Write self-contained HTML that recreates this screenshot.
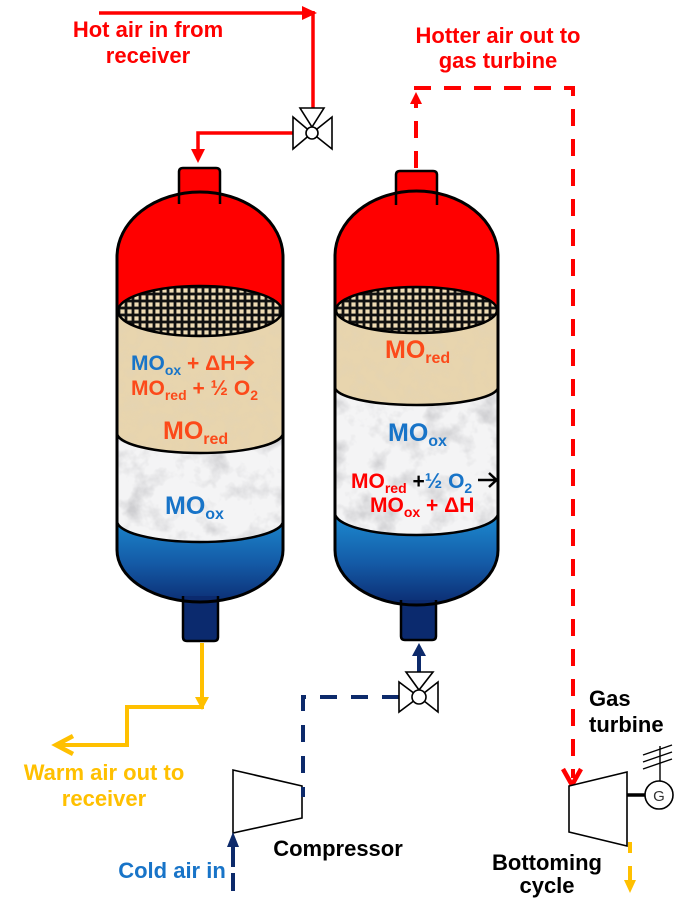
<!DOCTYPE html>
<html><head><meta charset="utf-8">
<style>
html,body{margin:0;padding:0;background:#fff;}
svg{display:block;}
text{font-family:"Liberation Sans",Arial,sans-serif;font-weight:bold;}
</style></head>
<body>
<svg width="687" height="915" viewBox="0 0 687 915" xmlns="http://www.w3.org/2000/svg">
<defs>
  <linearGradient id="blue" x1="0" y1="515" x2="0" y2="612" gradientUnits="userSpaceOnUse">
    <stop offset="0" stop-color="#1c8ad0"/>
    <stop offset="0.5" stop-color="#145aa6"/>
    <stop offset="1" stop-color="#0a2468"/>
  </linearGradient>
  <pattern id="grid" width="7" height="7" patternUnits="userSpaceOnUse">
    <rect width="7" height="7" fill="#111"/>
    <rect x="1.4" y="1.4" width="4.2" height="4.2" fill="#efdcb5"/>
  </pattern>
  <filter id="marb" x="0" y="0" width="687" height="915" filterUnits="userSpaceOnUse">
    <feTurbulence type="fractalNoise" baseFrequency="0.04" numOctaves="4" seed="7" result="n"/>
    <feColorMatrix in="n" type="matrix" values="0 0 0 0 0.6  0 0 0 0 0.6  0 0 0 0 0.62  2.6 0 0 0 -1.25"/>
  </filter>
  <filter id="sand" x="0" y="0" width="687" height="915" filterUnits="userSpaceOnUse">
    <feTurbulence type="fractalNoise" baseFrequency="0.08" numOctaves="3" seed="3" result="n"/>
    <feColorMatrix in="n" type="matrix" values="0 0 0 0 0.75  0 0 0 0 0.65  0 0 0 0 0.48  2.0 0 0 0 -0.85"/>
  </filter>
  <clipPath id="t1"><path d="M117,257 A83,65 0 0 1 283,257 L283,550 A83,52 0 0 1 117,550 Z"/></clipPath>
  <clipPath id="t2"><path d="M335,256 A81.5,65 0 0 1 498,256 L498,550 A81.5,55 0 0 1 335,550 Z"/></clipPath>
  <clipPath id="m1"><path d="M117,425 L117,521 A83,21 0 0 0 283,521 L283,425 Z"/></clipPath>
  <clipPath id="b1"><path d="M117,311 L117,433 A83,20 0 0 0 283,433 L283,311 Z"/></clipPath>
  <clipPath id="m2"><path d="M335,380 L335,513 A81.5,22 0 0 0 498,513 L498,380 Z"/></clipPath>
  <clipPath id="b2"><path d="M335,310 L335,387 A81.5,18 0 0 0 498,387 L498,310 Z"/></clipPath>
</defs>

<!-- ===== TANK 1 ===== -->
<g clip-path="url(#t1)">
  <rect x="100" y="150" width="200" height="480" fill="url(#blue)"/>
  <g clip-path="url(#m1)">
    <rect x="100" y="420" width="200" height="130" fill="#f4f4f5"/>
    <rect x="100" y="420" width="200" height="130" filter="url(#marb)"/>
  </g>
  <g clip-path="url(#b1)">
    <rect x="100" y="300" width="200" height="160" fill="#e8d5ae"/>
    <rect x="100" y="300" width="200" height="160" filter="url(#sand)" opacity="0.5"/>
  </g>
  <rect x="100" y="150" width="200" height="161" fill="#ff0000"/>
  <ellipse cx="200" cy="311" rx="82" ry="25" fill="url(#grid)" stroke="#000" stroke-width="2.5"/>
  <path d="M117,433 A83,20 0 0 0 283,433" fill="none" stroke="#000" stroke-width="2.5"/>
  <path d="M117,521 A83,21 0 0 0 283,521" fill="none" stroke="#000" stroke-width="2.5"/>
</g>
<path d="M179,204 L179,172 Q179,168 183,168 L216,168 Q220,168 220,172 L220,204" fill="#ff0000" stroke="#000" stroke-width="2.5"/>
<path d="M183,596 L183,637 Q183,641 187,641 L214,641 Q218,641 218,637 L218,596" fill="#0b2a6e" stroke="#000" stroke-width="2.5"/>
<path d="M117,257 A83,65 0 0 1 283,257 L283,550 A83,52 0 0 1 117,550 Z" fill="none" stroke="#000" stroke-width="3"/>

<!-- ===== TANK 2 ===== -->
<g clip-path="url(#t2)">
  <rect x="320" y="150" width="200" height="480" fill="url(#blue)"/>
  <g clip-path="url(#m2)">
    <rect x="320" y="370" width="200" height="180" fill="#f4f4f5"/>
    <rect x="320" y="370" width="200" height="180" filter="url(#marb)"/>
  </g>
  <g clip-path="url(#b2)">
    <rect x="320" y="300" width="200" height="110" fill="#e8d5ae"/>
    <rect x="320" y="300" width="200" height="110" filter="url(#sand)" opacity="0.5"/>
  </g>
  <rect x="320" y="150" width="200" height="160" fill="#ff0000"/>
  <ellipse cx="416.5" cy="310" rx="80.5" ry="23" fill="url(#grid)" stroke="#000" stroke-width="2.5"/>
  <path d="M335,387 A81.5,18 0 0 0 498,387" fill="none" stroke="#000" stroke-width="2.5"/>
  <path d="M335,513 A81.5,22 0 0 0 498,513" fill="none" stroke="#000" stroke-width="2.5"/>
</g>
<path d="M396,205 L396,175 Q396,171 400,171 L433,171 Q437,171 437,175 L437,205" fill="#ff0000" stroke="#000" stroke-width="2.5"/>
<path d="M401,600 L401,636 Q401,640 405,640 L432,640 Q436,640 436,636 L436,600" fill="#0b2a6e" stroke="#000" stroke-width="2.5"/>
<path d="M335,256 A81.5,65 0 0 1 498,256 L498,550 A81.5,55 0 0 1 335,550 Z" fill="none" stroke="#000" stroke-width="3"/>

<!-- ===== Tank texts ===== -->
<text x="131" y="370" font-size="21" fill="#fc4a1a"><tspan fill="#1874c8">MO</tspan><tspan fill="#1874c8" font-size="14" dy="5">ox</tspan><tspan dy="-5"> + ΔH</tspan></text>
<path d="M236,362.5 L252,362.5 M245,355.5 L252.5,362.5 L245,369.5" fill="none" stroke="#fc4a1a" stroke-width="2.8"/>
<text x="131" y="395" font-size="21" fill="#fc4a1a">MO<tspan font-size="14" dy="5">red</tspan><tspan dy="-5"> + ½ O</tspan><tspan font-size="14" dy="5">2</tspan></text>
<text x="163" y="439" font-size="25" fill="#fc4a1a">MO<tspan font-size="16" dy="5">red</tspan></text>
<text x="165" y="514" font-size="25" fill="#1874c8">MO<tspan font-size="16" dy="5">ox</tspan></text>

<text x="385" y="358" font-size="25" fill="#fc4a1a">MO<tspan font-size="16" dy="5">red</tspan></text>
<text x="388" y="441" font-size="25" fill="#1874c8">MO<tspan font-size="16" dy="5">ox</tspan></text>
<text x="351" y="488" font-size="21" fill="#ff0000">MO<tspan font-size="14" dy="5">red</tspan><tspan dy="-5" fill="#000"> +</tspan><tspan fill="#1874c8">½ O</tspan><tspan fill="#1874c8" font-size="14" dy="5">2</tspan></text>
<path d="M478,480 L496,480 M489,473 L496.5,480 L489,487" fill="none" stroke="#000" stroke-width="2.5"/>
<text x="370" y="512" font-size="21" fill="#ff0000">MO<tspan font-size="14" dy="5">ox</tspan><tspan dy="-5"> + ΔH</tspan></text>

<!-- ===== Hot air in (red solid) ===== -->
<line x1="99" y1="13" x2="305" y2="13" stroke="#ff0000" stroke-width="3.5"/>
<polygon points="302,6 317,13 302,20" fill="#ff0000"/>
<line x1="313" y1="11" x2="313" y2="110" stroke="#ff0000" stroke-width="3.5"/>
<polyline points="294,133 198,133 198,152" fill="none" stroke="#ff0000" stroke-width="3.5"/>
<polygon points="191,149 205,149 198,163" fill="#ff0000"/>
<!-- valve 1 -->
<g stroke="#000" stroke-width="1.6" fill="#fff">
  <polygon points="300,108 324,108 312,127"/>
  <polygon points="293,117 293,149 312,133"/>
  <polygon points="332,117 332,149 312,133"/>
  <circle cx="312" cy="133" r="6"/>
</g>

<!-- ===== Hotter air out (red dashed) ===== -->
<path d="M416,168 L416,104" fill="none" stroke="#ff0000" stroke-width="4" stroke-dasharray="17 13"/>
<polygon points="410,104 422,104 416,92" fill="#ff0000"/>
<path d="M414,88 L573,88 L573,778" fill="none" stroke="#ff0000" stroke-width="4" stroke-dasharray="17 13"/>
<polyline points="563,769 572,785 581,769" fill="none" stroke="#ff0000" stroke-width="4.5"/>

<!-- ===== Gas turbine ===== -->
<polygon points="569,786 627,772 627,846 569,832" fill="#fff" stroke="#000" stroke-width="1.6"/>
<line x1="627" y1="795" x2="645" y2="795" stroke="#000" stroke-width="3.5"/>
<circle cx="659" cy="795" r="14" fill="#fff" stroke="#000" stroke-width="1.6"/>
<text x="659" y="801" font-size="15" style="font-weight:normal" text-anchor="middle" fill="#333">G</text>
<line x1="660" y1="781" x2="660" y2="746" stroke="#000" stroke-width="1.4"/>
<line x1="643" y1="755" x2="672" y2="745" stroke="#000" stroke-width="1.4"/>
<line x1="643" y1="762" x2="672" y2="752" stroke="#000" stroke-width="1.4"/>
<line x1="643" y1="769" x2="672" y2="759" stroke="#000" stroke-width="1.4"/>
<!-- bottoming yellow -->
<line x1="630" y1="842" x2="630" y2="853" stroke="#ffc000" stroke-width="4"/>
<line x1="630" y1="866" x2="630" y2="882" stroke="#ffc000" stroke-width="4"/>
<polygon points="624,880 636,880 630,893" fill="#ffc000"/>

<!-- ===== Warm air out (yellow) ===== -->
<polyline points="202,643 202,707 127,707 127,745 58,745" fill="none" stroke="#ffc000" stroke-width="4"/>
<polygon points="195,697 209,697 202,710" fill="#ffc000"/>
<polyline points="73,736 56,745 73,754" fill="none" stroke="#ffc000" stroke-width="4.5"/>

<!-- ===== Cold air / compressor (navy) ===== -->
<polygon points="233,770 302,786 302,818 233,833" fill="#fff" stroke="#000" stroke-width="1.6"/>
<path d="M399,697 L303,697 L303,797" fill="none" stroke="#0d2a6b" stroke-width="4" stroke-dasharray="17 14"/>
<line x1="233" y1="845" x2="233" y2="867" stroke="#0d2a6b" stroke-width="4"/>
<line x1="233" y1="873" x2="233" y2="891" stroke="#0d2a6b" stroke-width="4"/>
<polygon points="227,847 239,847 233,832" fill="#0d2a6b"/>
<!-- arrow to tank 2 -->
<line x1="419" y1="654" x2="419" y2="672" stroke="#0d2a6b" stroke-width="4"/>
<polygon points="412,656 426,656 419,643" fill="#0d2a6b"/>
<!-- valve 2 -->
<g stroke="#000" stroke-width="1.6" fill="#fff">
  <polygon points="406,672 433,672 419,690"/>
  <polygon points="399,682 399,712 419,697"/>
  <polygon points="438,682 438,712 419,697"/>
  <circle cx="419" cy="697" r="7"/>
</g>

<!-- ===== Labels ===== -->
<text x="148" y="37" font-size="22" fill="#ff0000" text-anchor="middle">Hot air in from</text>
<text x="148" y="63" font-size="22" fill="#ff0000" text-anchor="middle">receiver</text>
<text x="498" y="43" font-size="22" fill="#ff0000" text-anchor="middle">Hotter air out to</text>
<text x="498" y="68" font-size="22" fill="#ff0000" text-anchor="middle">gas turbine</text>
<text x="104" y="780" font-size="22" fill="#ffc000" text-anchor="middle">Warm air out to</text>
<text x="104" y="806" font-size="22" fill="#ffc000" text-anchor="middle">receiver</text>
<text x="172" y="878" font-size="22" fill="#1874c8" text-anchor="middle">Cold air in</text>
<text x="338" y="856" font-size="22" fill="#000" text-anchor="middle">Compressor</text>
<text x="589" y="706" font-size="22" fill="#000">Gas</text>
<text x="589" y="732" font-size="22" fill="#000">turbine</text>
<text x="547" y="870" font-size="22" fill="#000" text-anchor="middle">Bottoming</text>
<text x="547" y="893" font-size="22" fill="#000" text-anchor="middle">cycle</text>
</svg>
</body></html>
